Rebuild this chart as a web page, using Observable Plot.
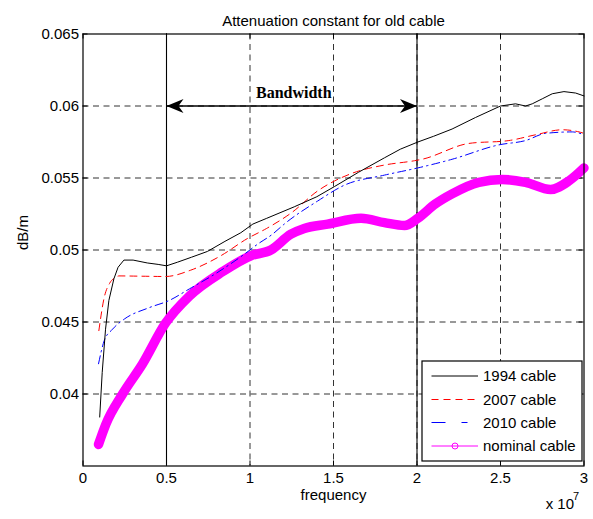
<!DOCTYPE html>
<html>
<head>
<meta charset="utf-8">
<script src="https://cdn.jsdelivr.net/npm/d3@7"></script>
<script src="https://cdn.jsdelivr.net/npm/@observablehq/plot@0.6"></script>
<style>
  html, body { margin: 0; padding: 0; background: #fff; }
  svg { display: block; }
</style>
</head>
<body>
<div id="chart"></div>
<script>
// ---- data (frequency in units of 1e7 Hz, attenuation in dB/m) ----
const freq1994 = [0.10,0.115,0.135,0.155,0.185,0.21,0.245,0.30,0.385,0.45,0.50,0.565,0.65,0.745,0.85,0.945,1.017,1.10,1.265,1.40,1.505,1.65,1.805,1.90,2.005,2.10,2.21,2.35,2.50,2.59,2.65,2.69,2.75,2.81,2.88,2.95,3.0];
const att1994  = [0.0384,0.0415,0.0445,0.0465,0.0480,0.0488,0.0493,0.0493,0.0491,0.0490,0.0489,0.04915,0.0495,0.0499,0.0506,0.0512,0.0518,0.0522,0.0530,0.0537,0.0544,0.0554,0.0564,0.0570,0.0575,0.0579,0.0584,0.0592,0.0600,0.06015,0.0600,0.06015,0.0605,0.06085,0.0610,0.0609,0.0607];

const freq2007 = [0.095,0.127,0.16,0.197,0.215,0.35,0.495,0.645,0.825,0.985,1.10,1.25,1.405,1.605,1.805,1.985,2.03,2.31,2.55,2.71,2.87,2.97,3.0];
const att2007  = [0.0444,0.0467,0.0477,0.0481,0.0482,0.04818,0.04816,0.0486,0.0496,0.0508,0.0515,0.0526,0.0541,0.0553,0.0559,0.0562,0.0563,0.0574,0.0576,0.0580,0.05835,0.0582,0.0581];

const freq2010 = [0.093,0.127,0.177,0.247,0.397,0.517,0.637,0.80,0.965,1.045,1.135,1.205,1.405,1.565,1.805,2.005,2.21,2.49,2.65,2.77,2.93,3.0];
const att2010  = [0.0421,0.0437,0.0445,0.0452,0.0460,0.0465,0.0473,0.0484,0.0497,0.0504,0.0511,0.0518,0.0534,0.0545,0.0552,0.0557,0.0563,0.0573,0.0576,0.0581,0.0582,0.0580];

const freqNominal = [0.093,0.137,0.237,0.357,0.493,0.637,0.837,1.005,1.125,1.245,1.325,1.465,1.665,1.805,1.925,2.005,2.11,2.21,2.37,2.51,2.65,2.80,2.91,3.0];
const attNominal  = [0.0365,0.0379,0.0400,0.0421,0.0449,0.0468,0.0485,0.0496,0.0500,0.0511,0.0515,0.0518,0.0522,0.0519,0.0517,0.0522,0.0532,0.0539,0.0547,0.0549,0.0547,0.0542,0.0548,0.0557];

const seriesNames = ["1994 cable", "2007 cable", "2010 cable", "nominal cable"];

const xTickValues = [0, 0.5, 1, 1.5, 2, 2.5, 3];
const yTickValues = [0.04, 0.045, 0.05, 0.055, 0.06, 0.065];
const xGridValues = [0.5, 1, 1.5, 2, 2.5];
const yGridValues = [0.04, 0.045, 0.05, 0.055, 0.06];
const xDomain = [0, 3];
const yDomain = [0.035, 0.065];

const bandwidthEdges = [0.5, 2];
const bandwidthLevel = 0.06;
const bandwidthLabel = "Bandwidth";

const titleText = "Attenuation constant for old cable";
const xLabelText = "frequency";
const yLabelText = "dB/m";
const xExponentBase = "x 10";
const xExponent = "7";

// ---- build rows ----
const rows = (xs, ys) => xs.map((x, i) => ({x, y: ys[i]}));
const d1994 = rows(freq1994, att1994);
const d2007 = rows(freq2007, att2007);
const d2010 = rows(freq2010, att2010);
const dNom  = rows(freqNominal, attNominal);

const W = 593, H = 519;
const mL = 82.5, mR = 9.5, mT = 33.5, mB = 53.5;
const frameW = W - mL - mR, frameH = H - mT - mB;
const font = "'Liberation Sans', Arial, Helvetica, sans-serif";

const chart = Plot.plot({
  width: W, height: H,
  marginLeft: mL, marginRight: mR, marginTop: mT, marginBottom: mB,
  style: {fontFamily: font, fontSize: "15px", color: "black", background: "white", overflow: "visible"},
  x: {domain: xDomain, ticks: xTickValues, tickFormat: d => String(d), tickSize: 0, tickPadding: 6, label: null},
  y: {domain: yDomain, ticks: yTickValues, tickFormat: d => String(d), tickSize: 0, tickPadding: 4, label: null},
  marks: [
    // dashed grid
    Plot.ruleY(yGridValues, {y: d => d, stroke: "#333", strokeWidth: 1, strokeDasharray: "6,4.5"}),
    Plot.ruleX(xGridValues, {x: d => d, stroke: "#333", strokeWidth: 1, strokeDasharray: "6,4.5"}),
    // solid bandwidth edges
    Plot.ruleX(bandwidthEdges, {x: d => d, stroke: "black", strokeWidth: 1.1}),
    // inward ticks on all four sides
    Plot.tickX(xTickValues, {x: d => d, insetTop: frameH - 5, stroke: "black"}),
    Plot.tickX(xTickValues, {x: d => d, insetBottom: frameH - 5, stroke: "black"}),
    Plot.tickY(yTickValues, {y: d => d, insetRight: frameW - 5, stroke: "black"}),
    Plot.tickY(yTickValues, {y: d => d, insetLeft: frameW - 5, stroke: "black"}),
    // series
    Plot.line(dNom, {x: "x", y: "y", stroke: "#ff00ff", strokeWidth: 9.5, strokeLinecap: "round", strokeLinejoin: "round", curve: "monotone-x"}),
    Plot.dot(dNom, {x: "x", y: "y", r: 3.5, stroke: "#ff00ff", fill: "none", strokeWidth: 1}),
    Plot.line(d2010, {x: "x", y: "y", stroke: "#0000ff", strokeWidth: 1, strokeDasharray: "8,4,1.5,4", curve: "monotone-x"}),
    Plot.line(d2007, {x: "x", y: "y", stroke: "#ff0000", strokeWidth: 1, strokeDasharray: "7,5", curve: "monotone-x"}),
    Plot.line(d1994, {x: "x", y: "y", stroke: "black", strokeWidth: 1, curve: "linear"}),
    // bandwidth arrow and label
    Plot.link([bandwidthEdges], {x1: d => d[0], x2: d => d[1], y1: bandwidthLevel, y2: bandwidthLevel, stroke: "black", strokeWidth: 1.3}),
    Plot.text([bandwidthLabel], {x: (bandwidthEdges[0] + bandwidthEdges[1]) / 2, y: bandwidthLevel, text: d => d, dx: 2, dy: -13.5,
      fontFamily: "'Liberation Serif', 'Times New Roman', serif", fontWeight: "bold", fontSize: 16, fill: "black"}),
    // frame
    Plot.frame({stroke: "black", strokeWidth: 1.2}),
    // title and axis labels
    Plot.text([titleText], {frameAnchor: "top", dy: -19, text: d => d, fontSize: 15, fill: "black"}),
    Plot.text([xLabelText], {frameAnchor: "bottom", dy: 33.5, text: d => d, fontSize: 15, fill: "black"}),
    Plot.text([yLabelText], {frameAnchor: "left", dx: -60, rotate: -90, text: d => d, fontSize: 15, fill: "black"}),
    Plot.text([xExponentBase], {frameAnchor: "bottom-right", textAnchor: "end", dx: -10, dy: 43, text: d => d, fontSize: 15, fill: "black"}),
    Plot.text([xExponent], {frameAnchor: "bottom-right", textAnchor: "end", dx: -5, dy: 34, text: d => d, fontSize: 11, fill: "black"})
  ]
});

// ---- filled notched arrowheads on the bandwidth arrow ----
const svg = d3.select(chart);
const defs = svg.insert("defs", ":first-child");
defs.append("marker")
  .attr("id", "bw-head")
  .attr("viewBox", "-17 -8 18 16")
  .attr("markerWidth", 18).attr("markerHeight", 16)
  .attr("markerUnits", "userSpaceOnUse")
  .attr("refX", 0).attr("refY", 0)
  .attr("orient", "auto-start-reverse")
  .append("path").attr("d", "M0,0L-17,-7L-12,0L-17,7Z").attr("fill", "black");
svg.selectAll('g[aria-label="link"] path')
  .attr("marker-start", "url(#bw-head)")
  .attr("marker-end", "url(#bw-head)");

// ---- legend box (inside the axes, bottom right) ----
const legendItems = [
  {name: seriesNames[0], stroke: "black", dash: null, marker: false},
  {name: seriesNames[1], stroke: "#ff0000", dash: "7,5", marker: false},
  {name: seriesNames[2], stroke: "#0000ff", dash: "14,16,6", marker: false},
  {name: seriesNames[3], stroke: "#ff00ff", dash: null, marker: true}
];
const lg = svg.append("g").attr("class", "legend");
const lx = 422, ly = 361, lw = 160, lh = 100;
lg.append("rect").attr("x", lx).attr("y", ly).attr("width", lw).attr("height", lh)
  .attr("fill", "white").attr("stroke", "black").attr("stroke-width", 1.2);
const rowY = [376, 399.5, 422.5, 446];
legendItems.forEach((it, i) => {
  const y = rowY[i];
  const ln = lg.append("line").attr("x1", 431.5).attr("x2", 478).attr("y1", y).attr("y2", y)
    .attr("stroke", it.stroke).attr("stroke-width", 1);
  if (it.dash) ln.attr("stroke-dasharray", it.dash);
  if (it.marker) lg.append("circle").attr("cx", 455).attr("cy", y).attr("r", 3)
    .attr("fill", "none").attr("stroke", it.stroke);
  lg.append("text").attr("x", 483).attr("y", y + 5.3)
    .attr("text-anchor", "start")
    .style("text-anchor", "start")
    .attr("font-family", font)
    .attr("font-size", 15).attr("fill", "black").text(it.name);
});

document.getElementById("chart").appendChild(chart);
</script>
</body>
</html>
